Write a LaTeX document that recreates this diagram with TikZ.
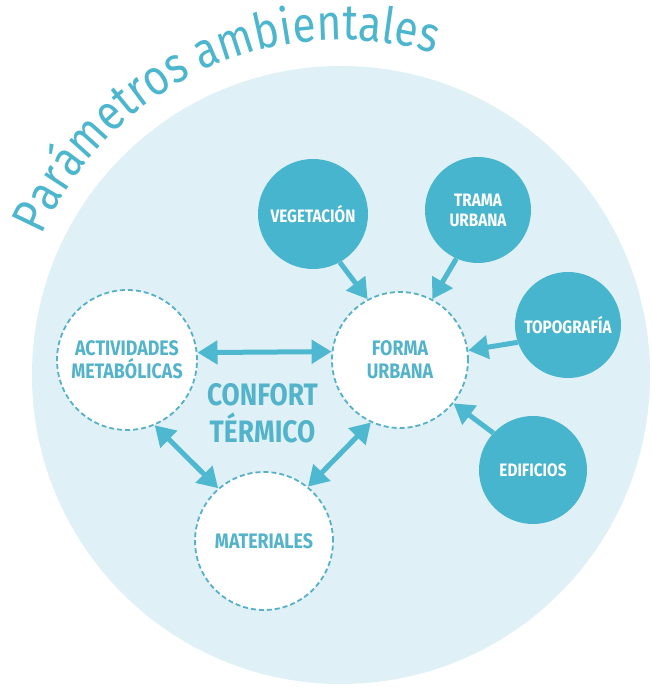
\documentclass[tikz,border=0pt]{standalone}
\usepackage{fontspec}
\usetikzlibrary{arrows.meta,decorations.text}
\newfontfamily\titlefont{Fira Sans}[FakeStretch=0.85]
\newfontfamily\lblfont{Fira Sans}[FakeStretch=0.85]
\definecolor{bgcirc}{HTML}{DFF1F6}
\definecolor{fillcol}{HTML}{47B5CD}
\definecolor{arrowcol}{HTML}{4DB8CF}
\definecolor{dashcol}{HTML}{56B0C8}
\definecolor{lblcol}{HTML}{52B3CB}
\definecolor{titlecol}{HTML}{4CB6CF}
\tikzset{
  outercirc/.style={circle, draw=dashcol, line width=1.8pt, dash pattern=on 5pt off 3pt,
    fill=white, minimum size=#1, inner sep=0pt, text=lblcol, align=center,
    font=\lblfont\bfseries\fontsize{21}{23}\selectfont},
  factorcirc/.style={circle, fill=fillcol, minimum size=#1, inner sep=0pt, text=white,
    align=center, font=\lblfont\bfseries\fontsize{18}{20}\selectfont},
  link/.style={line width=5pt, draw=arrowcol, -{Triangle[length=20pt,width=23pt]}},
  bothlink/.style={line width=5pt, draw=arrowcol,
    {Triangle[length=20pt,width=23pt]}-{Triangle[length=20pt,width=23pt]}}
}
\begin{document}
\begin{tikzpicture}[x=1pt,y=1pt]
\useasboundingbox (0,0) rectangle (651,687);
\fill[white] (0,0) rectangle (651,687);
% background disc
\coordinate (bc) at (341,312);
\fill[bgcirc] (bc) circle[radius=309];
% title along arc
\coordinate (tc) at (341,321);
\path[decorate, decoration={text along path, text align=left,
  text={|\titlefont\fontsize{50}{50}\selectfont\color{titlecol}|Par{\char"00E1}metros ambientales}}]
  ([shift={(156.5:326)}]tc) arc[start angle=156.5, end angle=45, radius=326];
% inner circles
\node[outercirc=140] (act) at (127,327) {ACTIVIDADES\\METABÓLICAS};
\node[outercirc=136] (forma) at (400,327) {FORMA\\URBANA};
\node[outercirc=138] (mat) at (264,146) {MATERIALES};
% factor circles
\node[factorcirc=110] (veg) at (313,473) {VEGETACIÓN};
\node[factorcirc=106] (trama) at (478,477) {TRAMA\\URBANA};
\node[factorcirc=106] (topo) at (568,362) {TOPOGRAFÍA};
\node[factorcirc=108] (edif) at (533,217) {EDIFICIOS};
% centre label
\node[text=lblcol, align=center, font=\lblfont\bfseries\fontsize{31}{37}\selectfont]
  (confort) at (262.5,274) {CONFORT\\TÉRMICO};
% connectors
\draw[bothlink] (act.6.6) -- (forma.173.2);
\draw[bothlink] (act.293) -- (mat.131);
\draw[bothlink] (mat.51) -- (forma.245);
\draw[link] (veg.299.5) -- (forma.118);
\draw[link] (trama.246) -- (forma.62);
\draw[link] (topo.199) -- (forma.8);
\draw[link] (edif.137) -- (forma.321);
\end{tikzpicture}
\end{document}
